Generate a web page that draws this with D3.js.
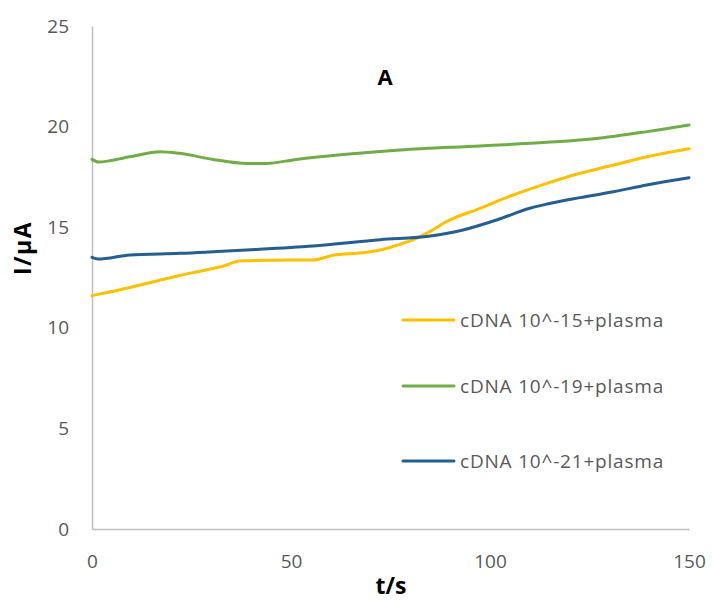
<!DOCTYPE html>
<html><head><meta charset="utf-8">
<script src="https://cdn.jsdelivr.net/npm/d3@7"></script>
<style>body{margin:0;background:#fff;} svg{display:block;}</style>
</head><body>
<script>
const times15 = [0, 1.5, 9.5, 16.3, 22, 28, 33, 37.2, 45, 55.5, 60.5, 68, 72.4, 77.4, 80.7, 85, 89, 97.5, 105.8, 114.3, 122.6, 131, 139.4, 150];
const series15 = [11.6, 11.66, 12.0, 12.33, 12.6, 12.85, 13.07, 13.32, 13.36, 13.37, 13.6, 13.73, 13.87, 14.15, 14.38, 14.8, 15.27, 15.94, 16.6, 17.18, 17.68, 18.09, 18.5, 18.9];
const times19 = [0, 1.6, 9.5, 17, 22, 30.4, 38.8, 43.8, 51.3, 63.8, 72.4, 77.4, 97.5, 114.3, 126.8, 139.4, 150];
const series19 = [18.37, 18.24, 18.5, 18.75, 18.67, 18.37, 18.17, 18.17, 18.37, 18.62, 18.76, 18.84, 19.04, 19.22, 19.41, 19.75, 20.08];
const times21 = [0, 1.5, 9.5, 22, 38.8, 55.5, 72.4, 85, 93.2, 101.7, 110, 114.3, 122.6, 131, 139.4, 150];
const series21 = [13.5, 13.42, 13.62, 13.7, 13.87, 14.07, 14.38, 14.56, 14.86, 15.36, 15.94, 16.15, 16.47, 16.76, 17.1, 17.46];
const seriesNames = ["cDNA 10^-15+plasma", "cDNA 10^-19+plasma", "cDNA 10^-21+plasma"];
const seriesColors = ["#FFC000", "#70AD47", "#255E91"];
const xTicks = [0, 50, 100, 150];
const yTicks = [0, 5, 10, 15, 20, 25];

const W = 713, H = 603;
const svg = d3.select("body").append("svg").attr("width", W).attr("height", H);
const x = d3.scaleLinear().domain([0, 150]).range([92, 689]);
const y = d3.scaleLinear().domain([0, 25]).range([529, 26]);
const font = "'Open Sans', sans-serif";

// axes
const xAxis = svg.append("g").attr("transform", `translate(0,${y(0)})`)
  .call(d3.axisBottom(x).tickValues(xTicks).tickSize(0).tickPadding(26));
const yAxis = svg.append("g").attr("transform", `translate(${x(0)},0)`)
  .call(d3.axisLeft(y).tickValues(yTicks).tickSize(0).tickPadding(23));
[xAxis, yAxis].forEach(a => {
  a.select(".domain").attr("stroke", "#BFBFBF").attr("stroke-width", 1.5);
  a.selectAll("text").attr("fill", "#595959").style("font-family", font).style("font-size", "19px");
});

const data = [
  times15.map((t, i) => [t, series15[i]]),
  times19.map((t, i) => [t, series19[i]]),
  times21.map((t, i) => [t, series21[i]])
];
const line = d3.line().x(d => x(d[0])).y(d => y(d[1])).curve(d3.curveMonotoneX);
data.forEach((d, i) => {
  svg.append("path").datum(d).attr("d", line).attr("fill", "none")
    .attr("stroke", seriesColors[i]).attr("stroke-width", 3).attr("stroke-linecap", "round");
});

// legend
const legY = [320, 386, 461];
seriesNames.forEach((n, i) => {
  svg.append("line").attr("x1", 403).attr("x2", 454).attr("y1", legY[i]).attr("y2", legY[i])
    .attr("stroke", seriesColors[i]).attr("stroke-width", 3).attr("stroke-linecap", "round");
  svg.append("text").attr("x", 460).attr("y", legY[i]).attr("dy", "0.35em")
    .attr("fill", "#595959").style("font-family", font).style("font-size", "19px")
    .style("letter-spacing", "0.8px").text(n);
});

// titles
svg.append("text").attr("x", 385).attr("y", 77).attr("dy", "0.35em").attr("text-anchor", "middle")
  .style("font-family", font).style("font-weight", "bold").style("font-size", "22px").attr("fill", "#000").text("A");
svg.append("text").attr("x", 391).attr("y", 586).attr("dy", "0.35em").attr("text-anchor", "middle")
  .style("font-family", font).style("font-weight", "bold").style("font-size", "23px").attr("fill", "#000").text("t/s");
svg.append("text").attr("transform", "translate(23,248) rotate(-90)").attr("dy", "0.35em").attr("text-anchor", "middle")
  .style("font-family", font).style("font-weight", "bold").style("font-size", "23px")
  .style("letter-spacing", "1.5px").attr("fill", "#000").text("I/µA");
</script>
</body></html>
